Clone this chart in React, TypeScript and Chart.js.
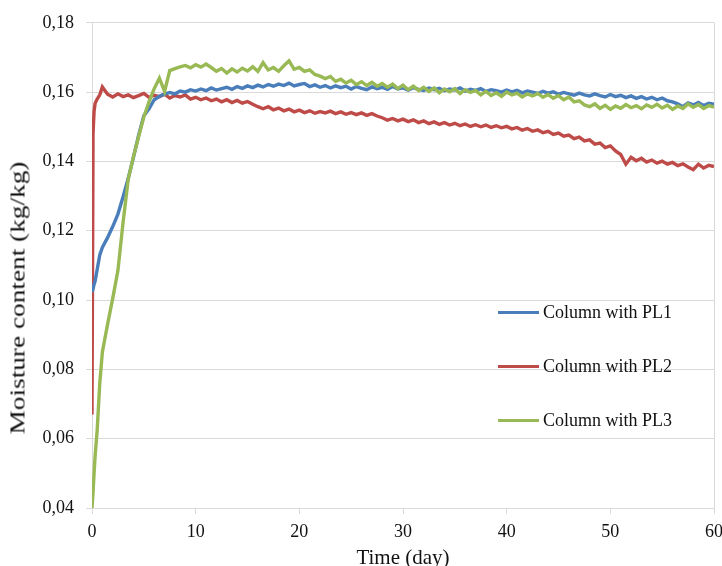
import React, { useEffect, useRef } from "react";
import { Chart, registerables } from "chart.js";

Chart.register(...registerables);

// ---------- data ----------
const TIME_DAYS = [
  0, 0.1, 0.2, 0.3, 0.5, 0.75, 1, 1.5, 2, 2.5,
  3, 3.5, 4, 4.5, 5, 5.5, 6, 6.5, 7, 7.5,
  8, 8.5, 9, 9.5, 10, 10.5, 11, 11.5, 12, 12.5,
  13, 13.5, 14, 14.5, 15, 15.5, 16, 16.5, 17, 17.5,
  18, 18.5, 19, 19.5, 20, 20.5, 21, 21.5, 22, 22.5,
  23, 23.5, 24, 24.5, 25, 25.5, 26, 26.5, 27, 27.5,
  28, 28.5, 29, 29.5, 30, 30.5, 31, 31.5, 32, 32.5,
  33, 33.5, 34, 34.5, 35, 35.5, 36, 36.5, 37, 37.5,
  38, 38.5, 39, 39.5, 40, 40.5, 41, 41.5, 42, 42.5,
  43, 43.5, 44, 44.5, 45, 45.5, 46, 46.5, 47, 47.5,
  48, 48.5, 49, 49.5, 50, 50.5, 51, 51.5, 52, 52.5,
  53, 53.5, 54, 54.5, 55, 55.5, 56, 56.5, 57, 57.5,
  58, 58.5, 59, 59.5, 60,
];

const PL1 = [
  0.1023, 0.1032, 0.1045, 0.1055, 0.1088, 0.1130, 0.1152, 0.1180, 0.1212, 0.1248,
  0.1298, 0.1352, 0.1412, 0.1476, 0.1532, 0.1552, 0.1578, 0.1588, 0.1594, 0.1599,
  0.1595, 0.1603, 0.1600, 0.1607, 0.1603, 0.1609, 0.1604, 0.1612, 0.1606, 0.1610,
  0.1614, 0.1608, 0.1616, 0.1611, 0.1618, 0.1613, 0.1620, 0.1615, 0.1622, 0.1617,
  0.1623, 0.1619, 0.1626, 0.1618, 0.1622, 0.1625, 0.1616, 0.1621, 0.1614, 0.1619,
  0.1612, 0.1618, 0.1613, 0.1617, 0.1609, 0.1616, 0.1611, 0.1607, 0.1615, 0.1610,
  0.1614, 0.1608, 0.1616, 0.1609, 0.1612, 0.1606, 0.1613, 0.1608, 0.1605, 0.1612,
  0.1607, 0.1611, 0.1604, 0.1609, 0.1606, 0.1612, 0.1603, 0.1608, 0.1605, 0.1610,
  0.1602, 0.1607, 0.1604, 0.1600, 0.1606, 0.1601, 0.1605, 0.1598, 0.1603, 0.1600,
  0.1596, 0.1602, 0.1597, 0.1601, 0.1594, 0.1599, 0.1595, 0.1591, 0.1597, 0.1592,
  0.1589, 0.1595, 0.1590, 0.1586, 0.1593, 0.1587, 0.1591, 0.1584, 0.1589, 0.1582,
  0.1587, 0.1580, 0.1585, 0.1578, 0.1583, 0.1575, 0.1572, 0.1566, 0.1558, 0.1569,
  0.1563, 0.1570, 0.1561, 0.1568, 0.1565,
];

const PL2 = [
  0.0670, 0.1480, 0.1545, 0.1568, 0.1580, 0.1592, 0.1615, 0.1594, 0.1586, 0.1595,
  0.1587, 0.1592, 0.1584, 0.1590, 0.1596, 0.1585, 0.1591, 0.1587, 0.1594, 0.1583,
  0.1590, 0.1586, 0.1592, 0.1580, 0.1585, 0.1578, 0.1583, 0.1575, 0.1580, 0.1572,
  0.1578, 0.1570, 0.1576, 0.1568, 0.1573, 0.1565, 0.1558, 0.1552, 0.1558, 0.1549,
  0.1554, 0.1546, 0.1551, 0.1543, 0.1548, 0.1541, 0.1546, 0.1539, 0.1544, 0.1540,
  0.1545, 0.1538, 0.1543, 0.1536, 0.1541, 0.1535, 0.1540, 0.1533, 0.1538, 0.1531,
  0.1526, 0.1519, 0.1524, 0.1517, 0.1522, 0.1515, 0.1520, 0.1512, 0.1517, 0.1509,
  0.1514, 0.1507, 0.1512, 0.1505, 0.1510, 0.1503, 0.1508, 0.1501, 0.1506, 0.1500,
  0.1505, 0.1498, 0.1503, 0.1497, 0.1501, 0.1494, 0.1498, 0.1490, 0.1495, 0.1487,
  0.1491, 0.1483, 0.1487, 0.1478, 0.1482, 0.1473, 0.1476, 0.1466, 0.1470, 0.1459,
  0.1462, 0.1450, 0.1453, 0.1440, 0.1445, 0.1430, 0.1420, 0.1392, 0.1412, 0.1402,
  0.1409, 0.1398, 0.1404, 0.1395, 0.1401, 0.1392, 0.1397, 0.1388, 0.1393, 0.1384,
  0.1376, 0.1392, 0.1381, 0.1389, 0.1385,
];

const PL3 = [
  0.0400, 0.0445, 0.0500, 0.0550, 0.0625, 0.0760, 0.0850, 0.0930, 0.1005, 0.1085,
  0.1225, 0.1350, 0.1414, 0.1472, 0.1528, 0.1572, 0.1610, 0.1640, 0.1602, 0.1662,
  0.1668, 0.1673, 0.1677, 0.1670, 0.1679, 0.1672, 0.1681, 0.1671, 0.1660, 0.1668,
  0.1655, 0.1667, 0.1658, 0.1669, 0.1661, 0.1673, 0.1660, 0.1685, 0.1664, 0.1671,
  0.1660, 0.1676, 0.1690, 0.1666, 0.1671, 0.1660, 0.1664, 0.1651, 0.1646, 0.1639,
  0.1645, 0.1631, 0.1637, 0.1626, 0.1634, 0.1622, 0.1630, 0.1619, 0.1628, 0.1617,
  0.1625, 0.1614, 0.1623, 0.1610, 0.1620, 0.1607, 0.1617, 0.1605, 0.1614, 0.1602,
  0.1612, 0.1598, 0.1609, 0.1601, 0.1610, 0.1596, 0.1607, 0.1599, 0.1605, 0.1592,
  0.1602, 0.1590, 0.1598, 0.1588, 0.1600, 0.1592, 0.1597, 0.1586, 0.1595, 0.1589,
  0.1596, 0.1585, 0.1593, 0.1582, 0.1590, 0.1578, 0.1586, 0.1572, 0.1575, 0.1563,
  0.1558, 0.1566, 0.1553, 0.1562, 0.1550, 0.1560, 0.1553, 0.1564, 0.1555, 0.1561,
  0.1552, 0.1563, 0.1556, 0.1565, 0.1554, 0.1562, 0.1550, 0.1560, 0.1553, 0.1566,
  0.1556, 0.1564, 0.1553, 0.1561, 0.1557,
];

const SERIES_LABELS = ["Column with PL1", "Column with PL2", "Column with PL3"];
const SERIES_COLORS = ["#4A7EBB", "#BE4B48", "#98B954"];
const X_MIN = 0;
const X_MAX = 60;
const X_STEP = 10;
const Y_MIN = 0.04;
const Y_MAX = 0.18;
const Y_STEP = 0.02;
const X_TITLE = "Time (day)";
const Y_TITLE = "Moisture content (kg/kg)";

const FONT = "'Liberation Serif', 'Times New Roman', serif";
const GRID = "#d9d9d9";
const TEXT = "#111111";

export default function App() {
  const canvasRef = useRef<HTMLCanvasElement | null>(null);

  useEffect(() => {
    document.body.style.margin = "0";
    const canvas = canvasRef.current;
    if (!canvas) return;
    const series = [PL1, PL2, PL3];
    const drawOrder = [2, 3, 1];
    const chart = new Chart(canvas, {
      type: "line",
      data: {
        datasets: series.map((vals, k) => ({
          label: SERIES_LABELS[k],
          data: TIME_DAYS.map((t, i) => ({ x: t, y: vals[i] })),
          borderColor: SERIES_COLORS[k],
          backgroundColor: SERIES_COLORS[k],
          borderWidth: 3.4,
          pointRadius: 0,
          tension: 0,
          order: drawOrder[k],
        })),
      },
      options: {
        animation: false,
        responsive: true,
        maintainAspectRatio: false,
        layout: { padding: { top: 18, right: 8, left: 0, bottom: 0 } },
        plugins: {
          legend: { display: false },
          tooltip: { enabled: false },
        },
        scales: {
          x: {
            type: "linear",
            min: X_MIN,
            max: X_MAX,
            ticks: {
              stepSize: X_STEP,
              color: TEXT,
              font: { family: FONT, size: 18 },
              padding: 7,
              maxRotation: 0,
            },
            grid: {
              color: (c: any) => (c.tick && c.tick.value === X_MAX ? GRID : "rgba(0,0,0,0)"),
              tickColor: GRID,
              tickLength: 6,
              lineWidth: 1,
            },
            border: { color: GRID, width: 1 },
            title: {
              display: true,
              text: X_TITLE,
              color: TEXT,
              font: { family: FONT, size: 21, lineHeight: 1 },
              padding: { top: 0, bottom: -3 },
            },
            afterFit: (s: any) => {
              s.height = 58;
              s.paddingRight = 0;
              s.paddingLeft = 0;
            },
          },
          y: {
            type: "linear",
            min: Y_MIN,
            max: Y_MAX,
            ticks: {
              stepSize: Y_STEP,
              color: TEXT,
              font: { family: FONT, size: 18 },
              padding: 12,
              callback: (v: any) => Number(v).toFixed(2).replace(".", ","),
            },
            grid: { color: GRID, tickColor: GRID, tickLength: 6, lineWidth: 1 },
            border: { color: GRID, width: 1 },
            afterFit: (s: any) => {
              s.width = 92;
            },
          },
        },
      },
    });
    return () => chart.destroy();
  }, []);

  const legendRows = [312, 366, 420];

  return (
    <div
      style={{
        position: "fixed",
        left: 0,
        top: 0,
        width: 722,
        height: 566,
        background: "#ffffff",
        fontFamily: FONT,
        overflow: "hidden",
      }}
    >
      <canvas ref={canvasRef} />
      <div
        style={{
          position: "absolute",
          left: 18,
          top: 298,
          transform: "translate(-50%, -50%) rotate(-90deg) scaleX(1.3)",
          whiteSpace: "nowrap",
          fontSize: 21,
          lineHeight: 1,
          color: TEXT,
        }}
      >
        {Y_TITLE}
      </div>
      {SERIES_LABELS.map((label, k) => (
        <div
          key={label}
          style={{
            position: "absolute",
            left: 498,
            top: legendRows[k] - 12,
            height: 24,
            display: "flex",
            alignItems: "center",
            whiteSpace: "nowrap",
          }}
        >
          <div style={{ width: 41, height: 3, background: SERIES_COLORS[k] }} />
          <span style={{ marginLeft: 4, fontSize: 18, color: TEXT, lineHeight: 1 }}>{label}</span>
        </div>
      ))}
    </div>
  );
}
